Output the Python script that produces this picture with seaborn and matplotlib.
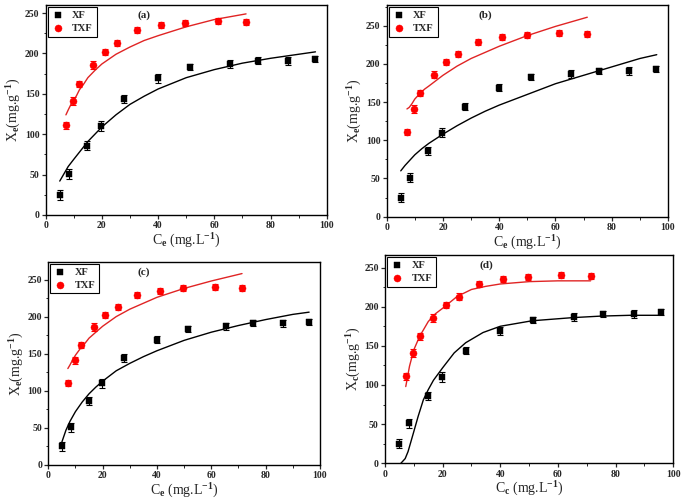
import matplotlib
matplotlib.use("Agg")
import matplotlib.pyplot as plt
import seaborn as sns
import pandas as pd
from matplotlib.ticker import MultipleLocator

# measured points (same in every panel)
xf_ce = [5.0, 8.2, 14.8, 19.8, 28.0, 40.0, 51.3, 65.5, 75.5, 86.2, 95.8]
xf_xe = [25, 51, 86, 110, 144, 169, 183, 187, 191, 191, 193]
xf_err = [6, 6, 5, 6, 5, 5, 4, 5, 4, 5, 4]
txf_ce = [7.2, 9.8, 12.0, 16.7, 21.0, 25.5, 32.5, 41.0, 49.7, 61.2, 71.3]
txf_xe = [111, 141, 162, 186, 202, 213, 229, 235, 238, 240, 239]
txf_err = [4, 5, 4, 5, 4, 4, 4, 4, 4, 4, 4]

# fitted curves
xf_fit_x = [5, 6.5, 8, 10, 12.5, 15, 17.5, 20, 25, 30, 35, 40, 50, 60, 70, 80, 90, 96]
txf_fit_x = [7.2, 8, 9, 10, 11, 12, 13.5, 15, 17.5, 20, 25, 30, 35, 40, 50, 60, 71.3]

fit_a_xf = [42, 51, 60, 69, 80, 91, 100, 109, 124, 137, 147, 156, 170, 180, 188, 194, 199, 202]
fit_a_txf = [124, 130, 137, 142, 148, 155, 162, 170, 179, 187, 199, 208, 216, 222, 233, 242, 249]
fit_b_xf = [60, 67, 73, 81, 89, 96, 102, 108, 119, 129, 138, 146, 160, 174, 185, 196, 207, 212]
fit_b_txf = [141, 143, 148, 154, 158, 162, 167, 171, 178, 185, 197, 207, 215, 223, 237, 249, 261]
fit_c_xf = [31, 47, 59, 72, 85, 96, 105, 113, 127, 137, 146, 154, 168, 179, 188, 196, 203, 206]
fit_c_txf = [130, 135, 142, 148, 153, 158, 164, 171, 179, 187, 200, 210, 218, 226, 238, 248, 258]

xf_fit_xd = [5.5, 7, 8, 9.8, 11.5, 13.3, 15, 16.8, 20, 24, 28, 34, 40, 51, 65, 75, 85, 96]
fit_d_xf = [0, 6, 15, 38, 60, 81, 94, 106, 122, 141, 154, 167, 175, 182, 186, 188, 189, 189]
txf_fit_xd = [7.2, 8.5, 10, 12, 15, 17.5, 20, 25, 30, 35, 40, 50, 60, 71.3]
fit_d_txf = [98, 124, 145, 162, 181, 191, 198, 213, 222, 226, 229, 232, 233, 233]

panels = [
    ("(a)", xf_fit_x, fit_a_xf, txf_fit_x, fit_a_txf, 260, "e",
     [45.7 / 685, 1 - 215 / 500, 281 / 685, 210 / 500]),
    ("(b)", xf_fit_x, fit_b_xf, txf_fit_x, fit_b_txf, 277, "e",
     [386.7 / 685, 1 - 216.7 / 500, 281.3 / 685, 211.7 / 500]),
    ("(c)", xf_fit_x, fit_c_xf, txf_fit_x, fit_c_txf, 274, "e",
     [48.3 / 685, 1 - 465 / 500, 271.7 / 685, 203.3 / 500]),
    ("(d)", xf_fit_xd, fit_d_xf, txf_fit_xd, fit_d_txf, 266, "c",
     [385 / 685, 1 - 463.3 / 500, 288.3 / 685, 208.3 / 500]),
]

sns.set_style("ticks")
plt.rcParams["font.family"] = ["Liberation Serif", "DejaVu Serif"]
plt.rcParams["font.weight"] = "bold"
plt.rcParams["mathtext.fontset"] = "custom"
plt.rcParams["mathtext.rm"] = "Liberation Serif:bold"
plt.rcParams["mathtext.it"] = "Liberation Serif:bold"
plt.rcParams["mathtext.bf"] = "Liberation Serif:bold"

fig = plt.figure(figsize=(6.85, 5.0), dpi=100)

df_xf = pd.DataFrame({"Ce": xf_ce, "Xe": xf_xe})
df_txf = pd.DataFrame({"Ce": txf_ce, "Xe": txf_xe})

for tag, fx1, fy1, fx2, fy2, ytop, sub, pos in panels:
    ax = fig.add_axes(pos)
    # fitted lines
    sns.lineplot(x=fx1, y=fy1, ax=ax, color="black", lw=1.0, zorder=2)
    sns.lineplot(x=fx2, y=fy2, ax=ax, color="#e02424", lw=1.0, zorder=2)
    # error bars
    ax.errorbar(xf_ce, xf_xe, yerr=xf_err, fmt="none", ecolor="black",
                elinewidth=0.8, capsize=2, capthick=0.8, zorder=3)
    ax.errorbar(txf_ce, txf_xe, yerr=txf_err, fmt="none", ecolor="red",
                elinewidth=0.8, capsize=2, capthick=0.8, zorder=3)
    # points
    sns.scatterplot(data=df_xf, x="Ce", y="Xe", ax=ax, marker="s", s=22,
                    color="black", edgecolor="black", linewidth=0.3,
                    label="XF", zorder=4)
    sns.scatterplot(data=df_txf, x="Ce", y="Xe", ax=ax, marker="o", s=26,
                    color="red", edgecolor="red", linewidth=0.3,
                    label="TXF", zorder=4)

    ax.set_xlim(0, 100)
    ax.set_ylim(0, ytop)
    ax.xaxis.set_major_locator(MultipleLocator(20))
    ax.xaxis.set_minor_locator(MultipleLocator(10))
    ax.yaxis.set_major_locator(MultipleLocator(50))
    ax.yaxis.set_minor_locator(MultipleLocator(25))
    ax.tick_params(which="major", direction="out", length=3, width=0.9,
                   labelsize=7, pad=1.5)
    ax.tick_params(which="minor", direction="out", length=1.8, width=0.7)
    for lbl in ax.get_xticklabels() + ax.get_yticklabels():
        lbl.set_fontweight("bold")
    for sp in ax.spines.values():
        sp.set_visible(True)
        sp.set_linewidth(1.0)
        sp.set_color("black")

    ax.set_xlabel(r"C$_{%s}$ (mg.L$^{-1}$)" % sub, fontsize=10, labelpad=1)
    ax.set_ylabel(r"X$_{%s}$(mg.g$^{-1}$)" % sub, fontsize=10, labelpad=1)
    ax.text(0.35, 0.95, tag, transform=ax.transAxes, ha="center", va="center",
            fontsize=8, fontweight="bold")

    leg = ax.legend(loc="upper left", fontsize=7.5, frameon=True,
                    fancybox=False, borderaxespad=0.2, handletextpad=0.8,
                    borderpad=0.35, labelspacing=0.35, handlelength=1.2)
    leg.get_frame().set_edgecolor("black")
    leg.get_frame().set_linewidth(0.8)
    leg.get_frame().set_alpha(1)
    for t in leg.get_texts():
        t.set_fontweight("bold")

fig.savefig("out.png", dpi=100)
